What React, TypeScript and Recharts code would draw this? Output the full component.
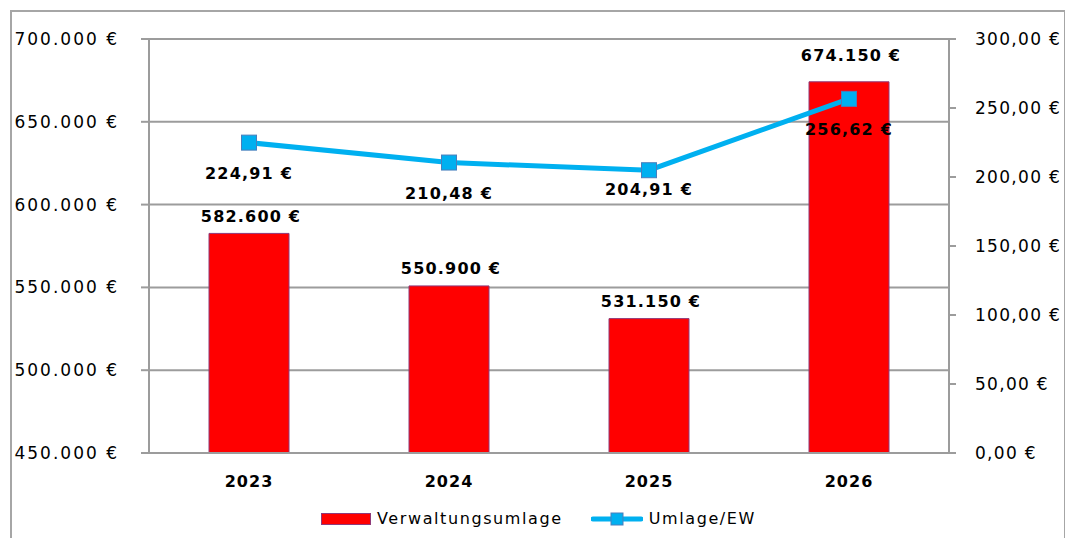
import React from "react";
import { ComposedChart, Bar, Line, XAxis, YAxis, CartesianGrid, Legend, LabelList } from "recharts";

const years = ["2023", "2024", "2025", "2026"];
const umlage = [582600, 550900, 531150, 674150];
const umlageProEw = [224.91, 210.48, 204.91, 256.62];
const leftTicks = [450000, 500000, 550000, 600000, 650000, 700000];
const rightTicks = [0, 50, 100, 150, 200, 250, 300];
const boundaryTicks = [0, 1, 2, 3, 4];

const data = years.map((y, i) => ({ year: y, idx: i + 0.5, umlage: umlage[i], ew: umlageProEw[i] }));

const FONT = "'DejaVu Sans', Verdana, sans-serif";
const RED = "#FF0000";
const BAR_STROKE = "#8E3A7A";
const BLUE = "#00B0F0";
const GRID = "#9C9C9C";

// label nudges as placed in the original sheet
const barLabelGap = [11, 12, 12, 21];
const lineLabelGap = [36, 36, 25, 36];

const fmtEuro = (v: number) => v.toLocaleString("de-DE", { maximumFractionDigits: 0 }) + " €";
const fmtCent = (v: number) => v.toLocaleString("de-DE", { minimumFractionDigits: 2, maximumFractionDigits: 2 }) + " €";

const SquareDot = (props: any) => {
  const { cx, cy } = props;
  if (cx == null || cy == null) return null;
  return <rect x={cx - 7.5} y={cy - 7.5} width={15} height={15} fill={BLUE} stroke="#4A7EBB" strokeWidth={1} />;
};

const BarLabel = (props: any) => {
  const { x, y, width, value, index } = props;
  return (
    <text x={x + width / 2 + 2} y={y - (barLabelGap[index] ?? 12)} textAnchor="middle" fontFamily={FONT} fontSize={16} fontWeight="bold" letterSpacing={1.2} fill="#000">
      {fmtEuro(value)}
    </text>
  );
};

const LineLabel = (props: any) => {
  const { x, y, value, index } = props;
  return (
    <text x={x} y={y + (lineLabelGap[index] ?? 36)} textAnchor="middle" fontFamily={FONT} fontSize={16} fontWeight="bold" letterSpacing={1.2} fill="#000">
      {fmtCent(value)}
    </text>
  );
};

const YearTick = (props: any) => {
  const { x, y, payload } = props;
  return (
    <text x={x} y={y + 32} textAnchor="middle" fontFamily={FONT} fontSize={16} fontWeight="bold" letterSpacing={1} fill="#000">
      {payload.value}
    </text>
  );
};

const LegendContent = () => (
  <div style={{ display: "flex", justifyContent: "center", alignItems: "center", height: 25, fontFamily: FONT, fontSize: 16, letterSpacing: 1.6, color: "#000", paddingLeft: 12 }}>
    <svg width={50} height={12} style={{ marginRight: 6 }}>
      <rect x={0.5} y={0.5} width={49} height={11} fill={RED} stroke={BAR_STROKE} strokeWidth={1} />
    </svg>
    <span>Verwaltungsumlage</span>
    <svg width={52} height={14} style={{ marginLeft: 28, marginRight: 6 }}>
      <line x1={2} y1={7} x2={50} y2={7} stroke={BLUE} strokeWidth={5} strokeLinecap="round" />
      <rect x={20} y={1} width={12} height={12} fill={BLUE} stroke="#4A7EBB" strokeWidth={1} />
    </svg>
    <span>Umlage/EW</span>
  </div>
);

export default function App() {
  return (
    <div style={{ position: "absolute", left: 0, top: 0, width: 1065, height: 538, background: "#fff", overflow: "hidden" }}>
      <div style={{ position: "absolute", left: 10, top: 10, width: 1052, height: 560, border: "2px solid #A6A6A6" }} />
      <ComposedChart
        width={1065}
        height={538}
        data={data}
        margin={{ top: 39, right: 0, bottom: 7, left: 0 }}
        barCategoryGap="30%"
      >
        <CartesianGrid yAxisId="left" vertical={false} stroke={GRID} strokeWidth={2} />
        <XAxis xAxisId="grid" type="number" dataKey="idx" domain={[0, 4]} ticks={boundaryTicks} height={0} tick={false} tickSize={8} axisLine={false} tickLine={{ stroke: GRID, strokeWidth: 2 }} />
        <XAxis xAxisId="cat" dataKey="year" height={53} tickSize={0} tickLine={false} axisLine={{ stroke: GRID, strokeWidth: 2 }} tick={<YearTick />} />
        <YAxis
          yAxisId="left"
          width={149}
          domain={[450000, 700000]}
          ticks={leftTicks}
          tickFormatter={fmtEuro}
          tickSize={8}
          tickMargin={22}
          axisLine={{ stroke: GRID, strokeWidth: 2 }}
          tickLine={{ stroke: GRID, strokeWidth: 2 }}
          tick={{ fill: "#000", fontFamily: FONT, fontSize: 17, letterSpacing: 2 }}
          allowDataOverflow
        />
        <YAxis
          yAxisId="right"
          orientation="right"
          width={116}
          domain={[0, 300]}
          ticks={rightTicks}
          tickFormatter={fmtCent}
          tickSize={7}
          tickMargin={19}
          axisLine={{ stroke: GRID, strokeWidth: 2 }}
          tickLine={{ stroke: GRID, strokeWidth: 2 }}
          tick={{ fill: "#000", fontFamily: FONT, fontSize: 17, letterSpacing: 1.3, textAnchor: "start" }}
        />
        <Legend verticalAlign="bottom" content={<LegendContent />} />
        <Bar xAxisId="cat" yAxisId="left" dataKey="umlage" name="Verwaltungsumlage" fill={RED} stroke={BAR_STROKE} strokeWidth={1} isAnimationActive={false}>
          <LabelList dataKey="umlage" content={<BarLabel />} />
        </Bar>
        <Line xAxisId="cat" yAxisId="right" dataKey="ew" name="Umlage/EW" stroke={BLUE} strokeWidth={5} dot={<SquareDot />} activeDot={false} isAnimationActive={false}>
          <LabelList dataKey="ew" content={<LineLabel />} />
        </Line>
      </ComposedChart>
    </div>
  );
}
